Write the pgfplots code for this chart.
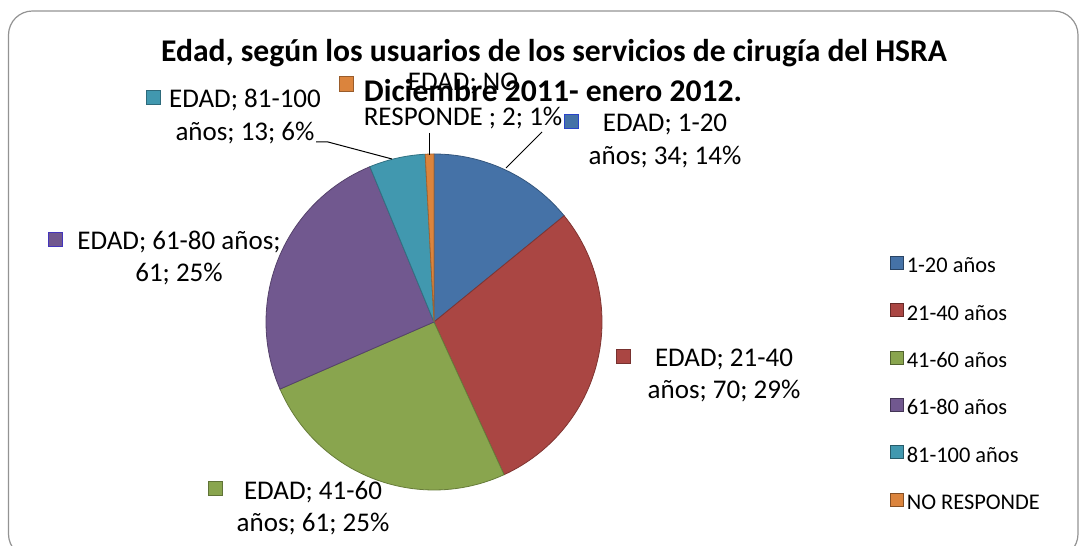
\documentclass[border=0pt]{standalone}
\usepackage{fontspec}
\setmainfont{Carlito}
\usepackage{pgfplots}
\usepackage{pgfplotstable}
\pgfplotsset{compat=1.18}

\definecolor{slice0}{HTML}{4572A7}
\definecolor{slice1}{HTML}{AA4643}
\definecolor{slice2}{HTML}{89A54E}
\definecolor{slice3}{HTML}{71588F}
\definecolor{slice4}{HTML}{4198AF}
\definecolor{slice5}{HTML}{DB843D}

% edad de los usuarios, diciembre 2011 - enero 2012
\pgfplotstableread{
grupo valor
1-20 34
21-40 70
41-60 61
61-80 61
81-100 13
NR 2
}\edad

\begin{document}
\begin{tikzpicture}
\begin{axis}[
    at={(0,0)}, anchor=south west,
    width=542bp, height=273bp, scale only axis,
    xmin=0, xmax=1084, ymin=0, ymax=546,
    hide axis, clip=false,
    legend image code/.code={\draw[#1,line width=0.5bp] (-0.5bp,-1bp) rectangle (6bp,5.5bp);},
    legend style={draw=none, fill=none, at={(axis cs:884,296)}, anchor=north west,
        font=\fontsize{11.2bp}{13bp}\selectfont, row sep=10.8bp,
        nodes={inner sep=1.2bp, text height=8bp, text depth=2.5bp}},
    legend cell align=left,
]
\addlegendimage{fill=slice0, draw=slice0!60!black}
\addlegendimage{fill=slice1, draw=slice1!60!black}
\addlegendimage{fill=slice2, draw=slice2!60!black}
\addlegendimage{fill=slice3, draw=slice3!60!black}
\addlegendimage{fill=slice4, draw=slice4!60!black}
\addlegendimage{fill=slice5, draw=slice5!60!black}
\legend{1-20 años, 21-40 años, 41-60 años, 61-80 años, 81-100 años, NO RESPONDE}

% marco del grafico
\draw[gray!85, line width=0.6bp, rounded corners=12bp] (axis cs:8.5,-12) rectangle (axis cs:1078,535);

% sectores del pastel, desde las 12 en sentido horario
\pgfplotsextra{
    \def\total{0}
    \pgfplotsforeachungrouped \i in {0,...,5}{
        \pgfplotstablegetelem{\i}{valor}\of\edad
        \pgfmathsetmacro\total{\total+\pgfplotsretval}
    }
    \def\ang{90}
    \pgfplotsforeachungrouped \i in {0,...,5}{
        \pgfplotstablegetelem{\i}{valor}\of\edad
        \pgfmathsetmacro\angb{\ang-\pgfplotsretval/\total*360}
        \filldraw[fill=slice\i, draw=slice\i!75!black, line width=0.4bp]
            (axis cs:434,224) -- ++(\ang:84bp) arc[start angle=\ang, end angle=\angb, radius=84bp] -- cycle;
        \let\ang\angb
    }
}

% lineas guia
\draw[black, line width=0.5bp] (axis cs:316,404) -- (axis cs:328,404) -- (axis cs:392,387);
\draw[black, line width=0.5bp] (axis cs:429,413) -- (axis cs:429,391);
\draw[black, line width=0.5bp] (axis cs:542,414) -- (axis cs:506,378);

% titulo
\node[anchor=base, font=\fontsize{15.8bp}{18bp}\selectfont\bfseries] at (axis cs:554,484)
    {Edad, según los usuarios de los servicios de cirugía del HSRA};

% etiquetas de datos
\tikzset{lbl/.style={anchor=base, font=\fontsize{13.5bp}{15bp}\selectfont},
         key/.style={line width=0.5bp}}
\node[lbl] at (axis cs:665,414) {EDAD; 1-20};
\node[lbl] at (axis cs:665,381) {años; 34; 14\%};
\node[lbl] at (axis cs:724,179) {EDAD; 21-40};
\node[lbl] at (axis cs:724,147) {años; 70; 29\%};
\node[lbl] at (axis cs:313,47) {EDAD; 41-60};
\node[lbl] at (axis cs:313,15) {años; 61; 25\%};
\node[lbl] at (axis cs:179,296) {EDAD; 61-80 años;};
\node[lbl] at (axis cs:179,264) {61; 25\%};
\node[lbl] at (axis cs:245,438) {EDAD; 81-100};
\node[lbl] at (axis cs:245,405) {años; 13; 6\%};
\node[lbl] at (axis cs:463,455) {EDAD; NO};
\node[lbl] at (axis cs:463,420) {RESPONDE ; 2; 1\%};
\draw[key, fill=slice0, draw=slice0!60!blue] (axis cs:564,417) rectangle (axis cs:578,431);
\draw[key, fill=slice1, draw=slice1!70!black] (axis cs:616,182) rectangle (axis cs:630,196);
\draw[key, fill=slice2, draw=slice2!70!black] (axis cs:208,50) rectangle (axis cs:222,64);
\draw[key, fill=slice3, draw=slice3!60!blue] (axis cs:48,299) rectangle (axis cs:62,313);
\draw[key, fill=slice4, draw=slice4!70!black] (axis cs:146,441) rectangle (axis cs:160,455);
\draw[key, fill=slice5, draw=slice5!70!black] (axis cs:339,454) rectangle (axis cs:353,469);

% segunda linea del titulo, encima de la etiqueta
\node[anchor=base, font=\fontsize{15.8bp}{18bp}\selectfont\bfseries] at (axis cs:553,444)
    {Diciembre 2011- enero 2012.};
\end{axis}
\pgfresetboundingbox
\useasboundingbox (0,0) rectangle (542bp,273bp);
\end{tikzpicture}
\end{document}
